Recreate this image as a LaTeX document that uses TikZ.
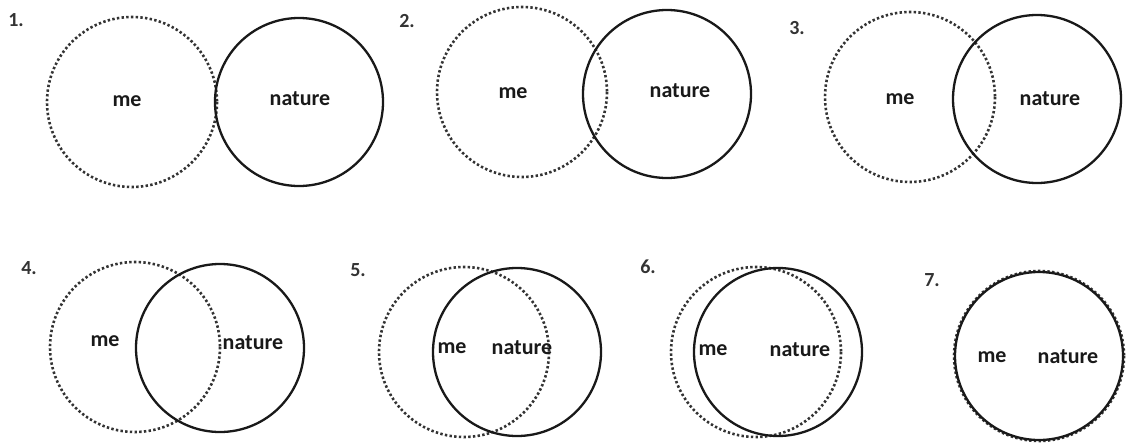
\documentclass[tikz,border=0pt]{standalone}
\usepackage{fontspec}
\setmainfont{Carlito}
\usetikzlibrary{positioning}

\tikzset{
  mering/.style={draw=black!80, line width=2.6pt, dash pattern=on 2.4pt off 2.3pt},
  naturering/.style={draw=black!90, line width=2.3pt},
  lbl/.style={font=\fontsize{22}{25}\selectfont\bfseries, text=black!90, inner sep=0pt},
  num/.style={font=\fontsize{20}{23}\selectfont\bfseries, text=black!80, inner sep=0pt}
}

\begin{document}
\begin{tikzpicture}[x=1pt, y=-1pt]
  \useasboundingbox (0,0) rectangle (1126,444);
  % centres of the "me" circles
  \coordinate (m1) at (132,102);
  \coordinate (m2) at (522,92);
  \coordinate (m3) at (910,97);
  \coordinate (m4) at (135,347);
  \coordinate (m5) at (464,352);
  \coordinate (m6) at (756,352);
  \coordinate (m7) at (1039,356);
  % centres of the "nature" circles
  \coordinate (n1) at (299,102);
  \coordinate (n2) at (667,94);
  \coordinate (n3) at (1037,99);
  \coordinate (n4) at (220,348);
  \coordinate (n5) at (517,352);
  \coordinate (n6) at (778,352);
  \coordinate (n7) at (1039,356);
  \foreach \p in {m1,m2,m3,m4,m5,m6,m7} {\draw[mering] (\p) circle (85);}
  \foreach \p in {n1,n2,n3,n4,n5,n6,n7} {\draw[naturering] (\p) circle (84);}
  % step numbers
  \node[num] (s1) at (16,20) {1.};
  \node[num] (s2) at (407,21) {2.};
  \node[num] (s3) at (797,28) {3.};
  \node[num] (s4) at (29,268) {4.};
  \node[num] (s5) at (358,270) {5.};
  \node[num] (s6) at (648,267) {6.};
  \node[num] (s7) at (932,280) {7.};
  % labels
  \node[lbl] (me1) at (127,101) {me};
  \node[lbl] (na1) at (300,99) {nature};
  \node[lbl] (me2) at (513,93) {me};
  \node[lbl] (na2) at (680,91) {nature};
  \node[lbl] (me3) at (900,99) {me};
  \node[lbl] (na3) at (1050,99) {nature};
  \node[lbl] (me4) at (105,341) {me};
  \node[lbl] (na4) at (253,343) {nature};
  \node[lbl] (me5) at (452,348) {me};
  \node[lbl] (na5) at (522,348) {nature};
  \node[lbl] (me6) at (713,350) {me};
  \node[lbl] (na6) at (800,350) {nature};
  \node[lbl] (me7) at (992,357) {me};
  \node[lbl] (na7) at (1068,357) {nature};
\end{tikzpicture}
\end{document}
